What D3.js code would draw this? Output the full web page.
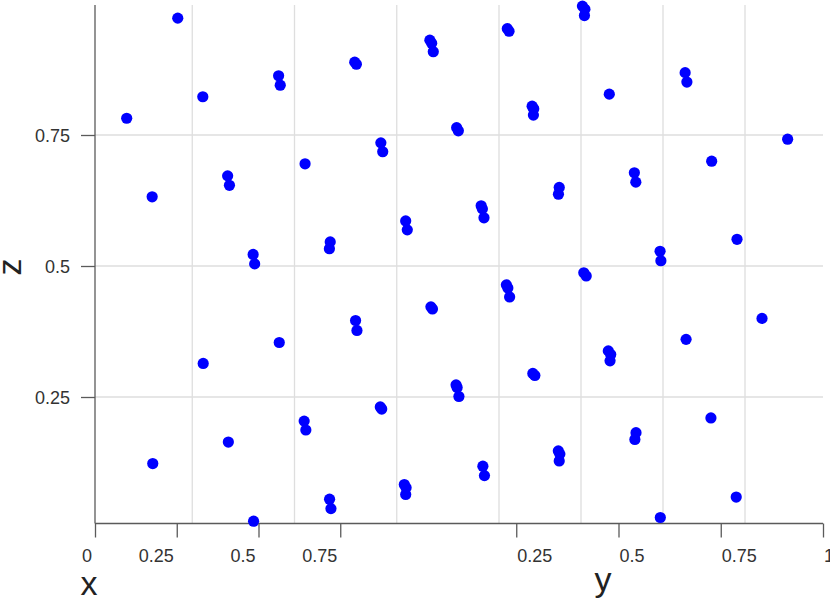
<!DOCTYPE html>
<html>
<head>
<meta charset="utf-8">
<script src="https://cdn.jsdelivr.net/npm/d3@7"></script>
<style>
  html, body { margin: 0; padding: 0; background: #fff; }
  svg { display: block; font-family: "Liberation Sans", Arial, sans-serif; }
</style>
</head>
<body>
<svg id="chart" width="830" height="603"></svg>
<script>
// ---- data (x, y, z of each point) ----
const xs = [0.035,0.150,0.028,0.154,0.082,0.207,0.096,0.374,0.222,0.112,0.414,0.262,0.128,0.455,0.291,0.147,0.491,0.298,0.162,0.531,
            0.321,0.672,0.175,0.564,0.351,0.702,0.193,0.595,0.377,0.753,0.207,0.633,0.401,0.778,0.269,0.219,0.658,0.440,0.408,0.809,
            0.239,0.690,0.423,0.835,0.345,0.252,0.714,0.496,0.443,0.869,0.270,0.746,0.453,0.891,0.401,0.284,0.772,0.548,0.472,0.924,
            0.305,0.798,0.488,0.951,0.404,0.314,0.817,0.605,0.504,0.982,0.520,0.356,0.834,0.609,0.832,0.564,0.515,0.784,0.539,0.814,
            0.676,0.690,0.844,0.631,0.734,0.868,0.762,0.871,0.888,0.892];
const ys = [0.05,0.02,0.12,0.08,0.20,0.10,0.25,0.03,0.15,0.30,0.06,0.18,0.35,0.09,0.22,0.40,0.12,0.28,0.45,0.15,
            0.32,0.04,0.50,0.19,0.36,0.08,0.55,0.23,0.40,0.10,0.60,0.26,0.44,0.14,0.55,0.65,0.30,0.48,0.50,0.18,
            0.70,0.34,0.55,0.22,0.62,0.75,0.38,0.56,0.60,0.26,0.80,0.42,0.65,0.30,0.70,0.85,0.46,0.64,0.70,0.34,
            0.90,0.50,0.75,0.38,0.82,0.95,0.55,0.72,0.80,0.42,0.85,0.98,0.60,0.78,0.66,0.88,0.92,0.70,0.96,0.74,
            0.85,0.90,0.78,0.95,0.93,0.82,0.97,0.88,0.93,0.99];
const zs = [0.782,0.632,0.123,0.973,0.823,0.314,0.672,0.654,0.164,0.522,0.504,0.013,0.863,0.845,0.354,0.695,0.204,0.187,0.546,0.533,
            0.055,0.037,0.889,0.885,0.396,0.377,0.735,0.718,0.231,0.227,0.586,0.569,0.083,0.077,0.064,0.931,0.925,0.909,0.422,0.418,
            0.764,0.758,0.273,0.268,0.251,0.615,0.609,0.592,0.118,0.100,0.953,0.948,0.464,0.458,0.441,0.805,0.800,0.788,0.295,0.291,
            0.650,0.637,0.147,0.141,0.128,0.996,0.990,0.978,0.487,0.481,0.828,0.338,0.331,0.319,0.678,0.660,0.182,0.169,0.528,0.510,
            0.020,0.869,0.851,0.360,0.700,0.210,0.551,0.059,0.400,0.742];
const xTicks = [0, 0.25, 0.5, 0.75];
const yTicks = [0.25, 0.5, 0.75, 1];
const zTicks = [0.25, 0.5, 0.75];
const gridTicks = [0.25, 0.5, 0.75, 1];
const gridTicksX = [0.25, 0.5, 0.75];

const svg = d3.select("#chart");

// projection scales (side view of a 3D box: x and y both run to the right)
const xAxisScale = d3.scaleLinear().domain([0, 1]).range([95, 422]);
const yAxisScale = d3.scaleLinear().domain([0, 1]).range([414, 823]);
const ySpan = d3.scaleLinear().domain([0, 1]).range([0, 405]);
const zScale = d3.scaleLinear().domain([0, 1]).range([528, 4]);
// back-wall grid scales
const backY = d3.scaleLinear().domain([0, 1]).range([90, 499]);
const backX = d3.scaleLinear().domain([0, 1]).range([499, 827]);

const gridColor = "#dedede";
const grid = svg.append("g");
grid.selectAll("line.vy").data(gridTicks).enter().append("line")
  .attr("x1", d => backY(d)).attr("x2", d => backY(d))
  .attr("y1", 5).attr("y2", 523)
  .attr("stroke", gridColor).attr("stroke-width", 1.3);
grid.selectAll("line.vx").data(gridTicksX).enter().append("line")
  .attr("x1", d => backX(d)).attr("x2", d => backX(d))
  .attr("y1", 5).attr("y2", 523)
  .attr("stroke", gridColor).attr("stroke-width", 1.3);
grid.selectAll("line.h").data(zTicks).enter().append("line")
  .attr("x1", 95).attr("x2", 823)
  .attr("y1", d => zScale(d)).attr("y2", d => zScale(d))
  .attr("stroke", gridColor).attr("stroke-width", 1.3);

const axisColor = "#5a5a5a";
const textColor = "#333";

function styleAxis(g) {
  g.select(".domain").attr("stroke", axisColor).attr("stroke-width", 1.3);
  g.selectAll(".tick line").attr("stroke", axisColor).attr("stroke-width", 1.3);
  g.selectAll(".tick text").attr("fill", textColor).attr("font-size", 18)
    .attr("font-family", "'Liberation Sans', Arial, sans-serif");
}

// horizontal axis line across the whole front edge
svg.append("line").attr("x1", 95).attr("x2", 823).attr("y1", 523.5).attr("y2", 523.5)
  .attr("stroke", axisColor).attr("stroke-width", 1.3);

const gx = svg.append("g").attr("transform", "translate(0,523.5)")
  .call(d3.axisBottom(xAxisScale).tickValues(xTicks).tickSize(14).tickSizeOuter(0)
        .tickFormat(d3.format("~g")));
gx.select(".domain").remove();
styleAxis(gx);
gx.selectAll(".tick text").attr("text-anchor", "end").attr("x", -3.5).attr("y", 38.5).attr("dy", 0);

const gy = svg.append("g").attr("transform", "translate(0,523.5)")
  .call(d3.axisBottom(yAxisScale).tickValues(yTicks).tickSize(14).tickSizeOuter(0)
        .tickFormat(d3.format("~g")));
gy.select(".domain").remove();
styleAxis(gy);
gy.selectAll(".tick text").attr("text-anchor", "start").attr("x", 0.5).attr("y", 38.5).attr("dy", 0);

const gz = svg.append("g").attr("transform", "translate(95,0)")
  .call(d3.axisLeft(zScale).tickValues(zTicks).tickSize(14).tickSizeOuter(0).tickPadding(11)
        .tickFormat(d3.format("~g")));
gz.select(".domain").remove();
styleAxis(gz);
gz.selectAll(".tick text").attr("dy", "0.36em");
svg.append("line").attr("x1", 95).attr("x2", 95).attr("y1", 5).attr("y2", 523.5)
  .attr("stroke", axisColor).attr("stroke-width", 1.3);

// axis titles
svg.append("text").attr("x", 89).attr("y", 595).attr("text-anchor", "middle")
  .attr("font-size", 34).attr("fill", "#222").text("x");
svg.append("text").attr("x", 603).attr("y", 591).attr("text-anchor", "middle")
  .attr("font-size", 34).attr("fill", "#222").text("y");
svg.append("text").attr("transform", "translate(21,267) rotate(-90)").attr("text-anchor", "middle")
  .attr("font-size", 34).attr("fill", "#222").text("z");

// points
const pts = zs.map((z, i) => ({ x: xs[i], y: ys[i], z: z }));
svg.append("g").selectAll("circle").data(pts).enter().append("circle")
  .attr("cx", d => xAxisScale(d.x) + ySpan(d.y))
  .attr("cy", d => zScale(d.z))
  .attr("r", 5.6)
  .attr("fill", "#0000ff");
</script>
</body>
</html>
